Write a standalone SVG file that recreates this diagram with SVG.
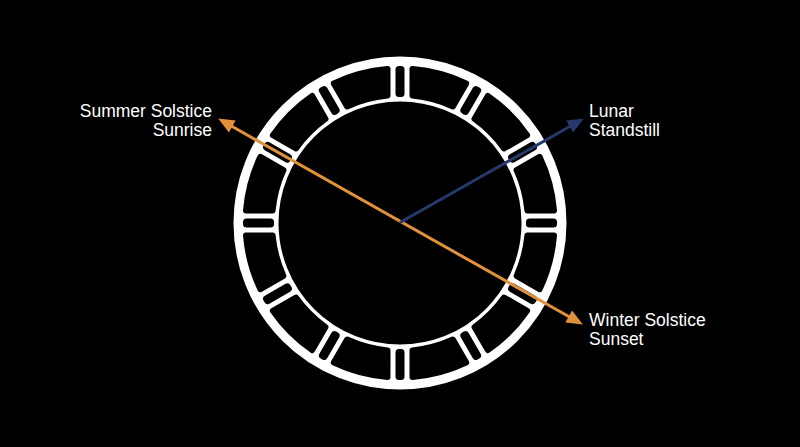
<svg xmlns="http://www.w3.org/2000/svg" xmlns:xlink="http://www.w3.org/1999/xlink" width="800" height="447" viewBox="0 0 800 447">
<style>
.lbl{font-family:"Liberation Sans",Arial,sans-serif;font-size:17.5px;fill:#ffffff}
.blk{fill:#000;stroke:#000;stroke-width:6;stroke-linejoin:round}
.slit{fill:#000}
.orange{stroke:#E0913A;stroke-width:3;fill:none}
.blue{stroke:#26396B;stroke-width:3;fill:none}
</style>
<defs>
<path id="block" class="blk" d="M151.98,-27.78 A154.5,154.5 0 0 1 151.98,27.78 L126.28,20.90 A128,128 0 0 0 126.28,-20.90 Z"/>
<rect id="slitR" class="slit" x="126" y="-4.5" width="31" height="9" rx="3.5"/>
<marker id="arrO" markerUnits="userSpaceOnUse" markerWidth="20" markerHeight="20" viewBox="-1 -7 16 14" refX="9" refY="0" orient="auto-start-reverse">
<path d="M0,-5.5 L13,0 L0,5.5 Z" fill="#E0913A"/>
</marker>
<marker id="arrB" markerUnits="userSpaceOnUse" markerWidth="20" markerHeight="20" viewBox="-1 -7 16 14" refX="9" refY="0" orient="auto">
<path d="M0,-5.5 L13,0 L0,5.5 Z" fill="#26396B"/>
</marker>
</defs>
<rect width="800" height="447" fill="#000"/>
<g id="ring" transform="translate(400,223)">
<circle r="144" fill="none" stroke="#fff" stroke-width="45"/>
<use xlink:href="#block" transform="rotate(15)"/>
<use xlink:href="#block" transform="rotate(45)"/>
<use xlink:href="#block" transform="rotate(75)"/>
<use xlink:href="#block" transform="rotate(105)"/>
<use xlink:href="#block" transform="rotate(135)"/>
<use xlink:href="#block" transform="rotate(165)"/>
<use xlink:href="#block" transform="rotate(195)"/>
<use xlink:href="#block" transform="rotate(225)"/>
<use xlink:href="#block" transform="rotate(255)"/>
<use xlink:href="#block" transform="rotate(285)"/>
<use xlink:href="#block" transform="rotate(315)"/>
<use xlink:href="#block" transform="rotate(345)"/>
<use xlink:href="#slitR" transform="rotate(0)"/>
<use xlink:href="#slitR" transform="rotate(30)"/>
<use xlink:href="#slitR" transform="rotate(60)"/>
<use xlink:href="#slitR" transform="rotate(90)"/>
<use xlink:href="#slitR" transform="rotate(120)"/>
<use xlink:href="#slitR" transform="rotate(150)"/>
<use xlink:href="#slitR" transform="rotate(180)"/>
<use xlink:href="#slitR" transform="rotate(210)"/>
<use xlink:href="#slitR" transform="rotate(240)"/>
<use xlink:href="#slitR" transform="rotate(270)"/>
<use xlink:href="#slitR" transform="rotate(300)"/>
<use xlink:href="#slitR" transform="rotate(330)"/>
</g>
<g id="connectors">
<line class="orange" x1="222.5" y1="121" x2="578.5" y2="322" marker-start="url(#arrO)" marker-end="url(#arrO)"/>
<line class="blue" x1="400" y1="222.5" x2="579.5" y2="121" marker-end="url(#arrB)"/>
</g>
<g id="label-summer">
<text class="lbl" x="212" y="117" text-anchor="end">Summer Solstice</text>
<text class="lbl" x="212" y="136" text-anchor="end">Sunrise</text>
</g>
<g id="label-lunar">
<text class="lbl" x="589" y="117">Lunar</text>
<text class="lbl" x="589" y="136">Standstill</text>
</g>
<g id="label-winter">
<text class="lbl" x="589" y="326">Winter Solstice</text>
<text class="lbl" x="589" y="345">Sunset</text>
</g>
</svg>
